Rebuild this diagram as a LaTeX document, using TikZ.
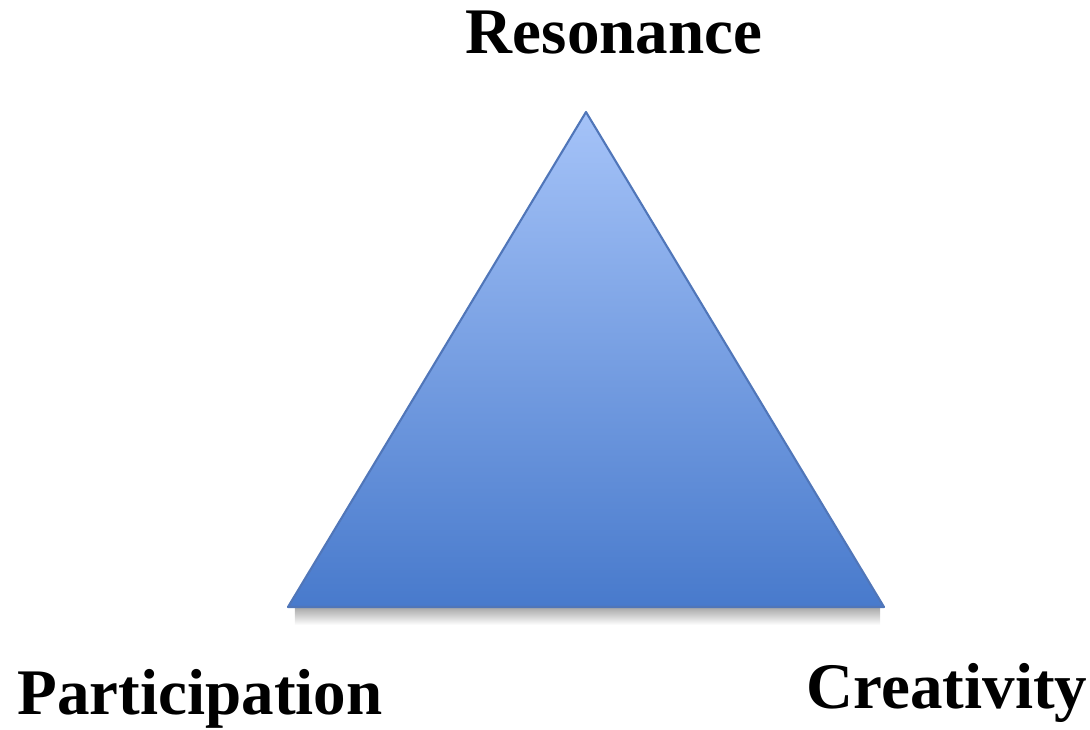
\documentclass[tikz,border=0pt]{standalone}
\usepackage{fontspec}
\setmainfont{Liberation Serif}
\usetikzlibrary{positioning}

\definecolor{triTop}{RGB}{165,195,248}
\definecolor{triBot}{RGB}{72,122,204}
\definecolor{triEdge}{RGB}{80,118,185}

\tikzset{
  corner label/.style={font=\bfseries\fontsize{18.5}{22}\selectfont, inner sep=0pt, anchor=base},
}

\begin{document}
\begin{tikzpicture}
    \useasboundingbox (0,0) rectangle (10.9,7.29);

    % corners of the triangle
    \coordinate (top) at (5.86,6.17);
    \coordinate (left) at (2.88,1.22);
    \coordinate (right) at (8.84,1.22);

    % soft shadow under the base
    \shade[top color=black!35, bottom color=white] (2.95,1.22) rectangle (8.80,1.04);

    % the triangle
    \shade[top color=triTop, bottom color=triBot, draw=triEdge, line width=0.6pt, line join=round]
        (top) -- (left) -- (right) -- cycle;

    % labels
    \node[corner label] (reso) at (6.14,6.76) {Resonance};
    \node[corner label] (parti) at (2.00,0.15) {Participation};
    \node[corner label] (creat) at (9.47,0.21) {Creativity};
\end{tikzpicture}
\end{document}
